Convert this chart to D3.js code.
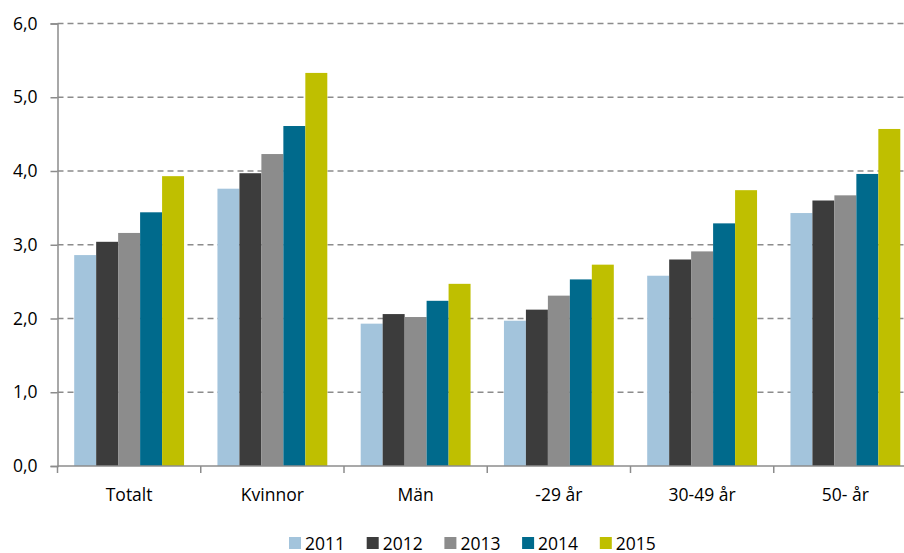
<!DOCTYPE html>
<html><head><meta charset="utf-8">
<script src="https://cdn.jsdelivr.net/npm/d3@7"></script>
<style>body{margin:0;background:#fff}svg{display:block}svg text{font-family:"Open Sans",sans-serif}</style>
</head><body>
<svg id="c" width="904" height="553"></svg>
<script>
const categories = ["Totalt","Kvinnor","Män","-29 år","30-49 år","50- år"];
const years = ["2011","2012","2013","2014","2015"];
const v2011 = [2.86,3.76,1.93,1.97,2.58,3.43];
const v2012 = [3.04,3.97,2.06,2.12,2.80,3.60];
const v2013 = [3.16,4.23,2.02,2.31,2.91,3.67];
const v2014 = [3.44,4.61,2.24,2.53,3.29,3.96];
const v2015 = [3.93,5.33,2.47,2.73,3.74,4.57];
const yTicks = [0,1,2,3,4,5,6];
const colors = ["#a3c4dc","#3c3c3c","#8c8c8c","#006a8c","#bfbf00"];
const series = [v2011,v2012,v2013,v2014,v2015];

const svg = d3.select("#c");
const mLeft = 57.5, mRight = 917, mTop = 23.5, mBottom = 466;
const fs = 17.5;
const x0 = d3.scaleBand().domain(categories).range([mLeft,mRight]).paddingInner(0).paddingOuter(0);
const x1 = d3.scaleBand().domain(years).range([0,x0.bandwidth()]).paddingOuter(0.76).paddingInner(0);
const y = d3.scaleLinear().domain([0,6]).range([mBottom,mTop]);

// grid
svg.append("g").selectAll("line").data(yTicks.filter(d=>d>0)).join("line")
  .attr("x1",mLeft).attr("x2",mRight).attr("y1",d=>y(d)).attr("y2",d=>y(d))
  .attr("stroke","#8c8c8c").attr("stroke-width",1.5).attr("stroke-dasharray","6,4");

// bars
const g = svg.append("g");
categories.forEach((c,i)=>{
  years.forEach((yr,j)=>{
    const v = series[j][i];
    g.append("rect").attr("x",x0(c)+x1(yr)).attr("width",x1.bandwidth())
      .attr("y",y(v)).attr("height",y(0)-y(v)).attr("fill",colors[j]);
  });
});

// y axis
const ya = svg.append("g").attr("transform",`translate(${mLeft},0)`)
  .call(d3.axisLeft(y).tickValues(yTicks).tickSize(7).tickPadding(13).tickFormat(d=>d3.format(".1f")(d).replace(".",",")));
ya.select(".domain").attr("stroke","#8c8c8c").attr("stroke-width",1.5);
ya.selectAll(".tick line").attr("stroke","#8c8c8c").attr("stroke-width",1.5);
ya.selectAll("text").attr("font-size",fs).attr("fill","#000");

// x axis
const xa = svg.append("g").attr("transform",`translate(0,${mBottom})`);
xa.append("line").attr("x1",mLeft).attr("x2",mRight).attr("stroke","#8c8c8c").attr("stroke-width",1.5);
xa.selectAll(".tk").data(categories).join("line").attr("class","tk")
  .attr("x1",d=>x0(d)).attr("x2",d=>x0(d)).attr("y1",0).attr("y2",7)
  .attr("stroke","#8c8c8c").attr("stroke-width",1.5);
xa.selectAll("text").data(categories).join("text")
  .attr("x",d=>x0(d)+x0.bandwidth()/2).attr("y",34.5).attr("text-anchor","middle")
  .attr("font-size",fs).attr("fill","#000").text(d=>d);

// legend
const lg = svg.append("g").attr("transform","translate(289,537)");
years.forEach((yr,j)=>{
  const it = lg.append("g").attr("transform",`translate(${j*77.7},0)`);
  it.append("rect").attr("width",12).attr("height",12).attr("fill",colors[j]);
  it.append("text").attr("x",16).attr("y",12.5).attr("font-size",fs).attr("fill","#000").text(yr);
});
</script>
</body></html>
